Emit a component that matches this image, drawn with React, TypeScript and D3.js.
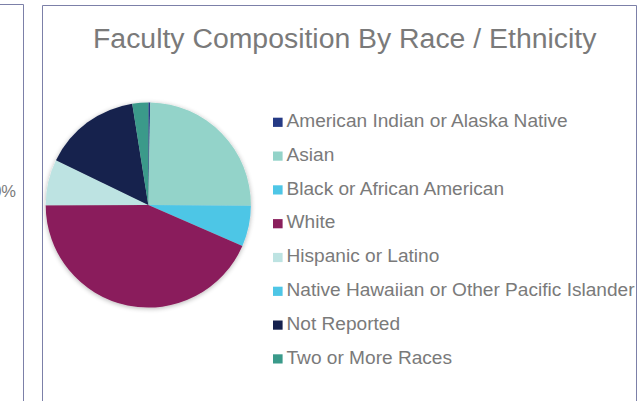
import React from "react";
import * as d3 from "d3";

const categories = [
  "American Indian or Alaska Native",
  "Asian",
  "Black or African American",
  "White",
  "Hispanic or Latino",
  "Native Hawaiian or Other Pacific Islander",
  "Not Reported",
  "Two or More Races",
];
const values = [0.3, 24.8, 6.4, 43.4, 7.2, 0, 15.3, 2.5];
const colors = ["#253a85", "#93d3c9", "#4ec6e6", "#8a1f5c", "#bde3e2", "#4ec6e6", "#14214e", "#3a9a8a"];
const title = "Faculty Composition By Race / Ethnicity";

export default function App() {
  const W = 643, H = 401;
  const cx = 148.3, cy = 205, r = 102.6;
  const pie = d3.pie<number>().sort(null).value((d) => d)(values);
  const arc = d3.arc<d3.PieArcDatum<number>>().innerRadius(0).outerRadius(r);
  const font = "'Liberation Sans', Arial, sans-serif";
  const textColor = "#7a7a7a";
  const border = "#7c80a8";
  return (
    <svg width={W} height={H} style={{ position: "absolute", left: 0, top: 0, background: "#fff" }}>
      <defs>
        <filter id="sh" x="-20%" y="-20%" width="140%" height="140%">
          <feGaussianBlur in="SourceAlpha" stdDeviation="2.5" />
          <feOffset dx="0" dy="1" result="b" />
          <feComponentTransfer><feFuncA type="linear" slope="0.3" /></feComponentTransfer>
          <feMerge><feMergeNode /><feMergeNode in="SourceGraphic" /></feMerge>
        </filter>
      </defs>
      <rect x={0} y={0} width={W} height={H} fill="#fff" />
      {/* left panel fragment */}
      <path d={`M0,4.5 H23.5 V${H}`} fill="none" stroke={border} strokeWidth={1} />
      <text x={16} y={197} textAnchor="end" fontFamily={font} fontSize={16.5} fill={textColor}>30%</text>
      {/* right panel */}
      <path d={`M42.5,${H} V5.5 H636.5 V${H}`} fill="none" stroke={border} strokeWidth={1} />
      <text x={344.7} y={48.3} textAnchor="middle" fontFamily={font} fontSize={28.4} fill={textColor}>{title}</text>
      <g transform={`translate(${cx},${cy})`} filter="url(#sh)">
        {pie.map((p, i) => (
          <path key={i} d={arc(p) || ""} fill={colors[i]} />
        ))}
      </g>
      <g>
        {categories.map((c, i) => {
          const y = 126.9 + i * 33.8;
          return (
            <g key={c}>
              <rect x={273} y={y - 9.2} width={9.6} height={9.2} fill={colors[i]} />
              <text x={286.5} y={y} fontFamily={font} fontSize={19.1} fill={textColor}>{c}</text>
            </g>
          );
        })}
      </g>
    </svg>
  );
}
